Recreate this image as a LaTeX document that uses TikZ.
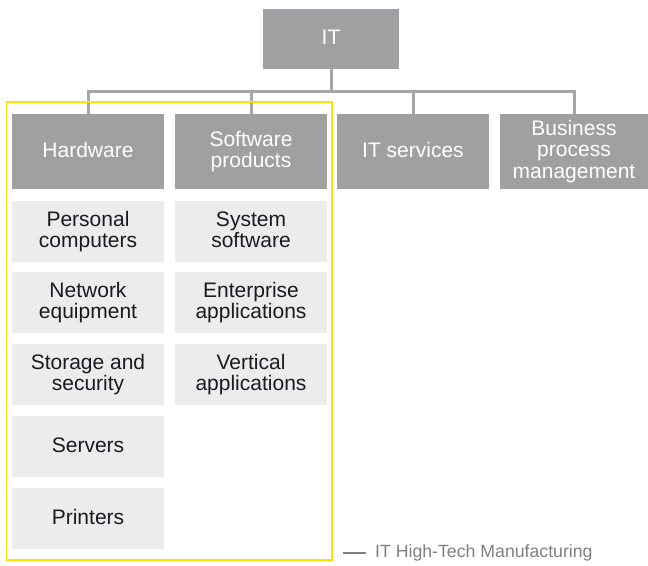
\documentclass[tikz,border=0pt]{standalone}
\usepackage{fontspec}
\setmainfont{Liberation Sans}
\definecolor{boxdark}{HTML}{A0A0A2}
\definecolor{boxlight}{HTML}{EBECEC}
\definecolor{conn}{HTML}{A6A6A6}
\definecolor{eyyellow}{HTML}{FFE000}
\definecolor{txtdark}{HTML}{1A1A20}
\definecolor{legendgray}{HTML}{808080}
\newcommand{\capstrut}{\rule[-4pt]{0pt}{19pt}}
\newcommand{\lns}[1]{\capstrut #1\capstrut}
\tikzset{
  topbox/.style={fill=boxdark, text=white, align=center, inner sep=0pt,
    minimum width=152pt, minimum height=75pt,
    font=\fontsize{21}{21.7}\selectfont},
  subbox/.style={fill=boxlight, text=txtdark, align=center, inner sep=0pt,
    minimum width=152pt, minimum height=61pt,
    font=\fontsize{21}{21.7}\selectfont},
  link/.style={draw=conn, line width=3pt},
}
\begin{document}
\begin{tikzpicture}[x=1pt,y=-1pt]
\useasboundingbox (0,0) rectangle (648,565);
% top node
\node[topbox, minimum width=136pt, minimum height=60pt] (it) at (331,38.5) {\lns{IT}};
% second level
\node[topbox] (hw) at (88,151.5) {\lns{Hardware}};
\node[topbox] (sw) at (251,151.5) {\lns{Software\\products}};
\node[topbox] (its) at (413,151.5) {\lns{IT services}};
\node[topbox, minimum width=148pt] (bpm) at (574,151.5) {\lns{Business\\process\\management}};
% connectors
\coordinate (bus) at (331,91);
\draw[link] (it.south) -- (bus);
\foreach \n in {hw,sw,its,bpm}{
  \draw[link] (bus) -| (\n.north);
}
% group frame
\node[draw=eyyellow, line width=1.5pt, inner sep=0pt, minimum width=325.5pt,
  minimum height=458pt] (group) at (169.25,331) {};
% hardware column
\node[subbox] (pc) at (88,231.5) {\lns{Personal\\computers}};
\node[subbox] (net) at (88,302.5) {\lns{Network\\equipment}};
\node[subbox] (sto) at (88,374.5) {\lns{Storage and\\security}};
\node[subbox] (srv) at (88,446.5) {\lns{Servers}};
\node[subbox] (prn) at (88,518.5) {\lns{Printers}};
% software column
\node[subbox] (sys) at (251,231.5) {\lns{System\\software}};
\node[subbox] (ent) at (251,302.5) {\lns{Enterprise\\applications}};
\node[subbox] (ver) at (251,374.5) {\lns{Vertical\\applications}};
% legend
\coordinate (la) at (343,553);
\coordinate (lb) at (366,553);
\draw[draw=legendgray, line width=1.2pt] (la) -- (lb);
\node[anchor=west, inner sep=0pt, text=legendgray, font=\fontsize{17.7}{19}\selectfont]
  (legend) at (375,553) {IT High-Tech Manufacturing};
\end{tikzpicture}
\end{document}
